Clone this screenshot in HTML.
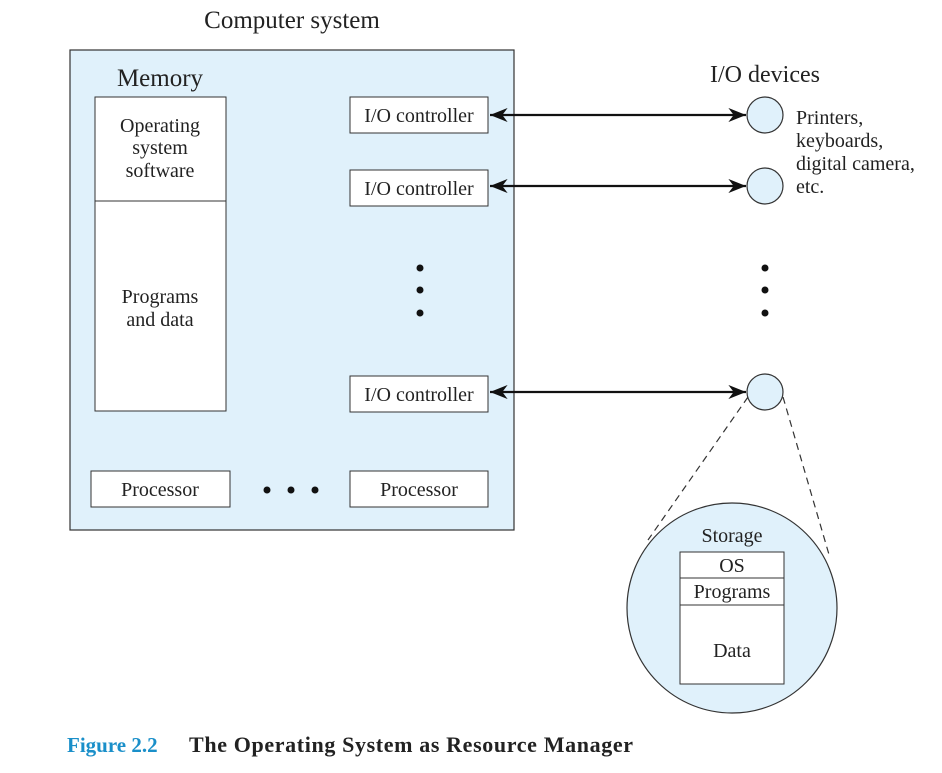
<!DOCTYPE html>
<html><head><style>body{margin:0;background:#fff}</style></head><body>
<svg width="942" height="768" xmlns="http://www.w3.org/2000/svg" font-family="Liberation Serif, serif" fill="#222">
<defs><marker id="a" viewBox="0 0 10 10" refX="10" refY="5" markerWidth="8" markerHeight="8" orient="auto-start-reverse"><path d="M0,1 L10,5 L0,9 L3,5z" fill="#111"/></marker></defs>
<text x="292" y="28" font-size="25" text-anchor="middle">Computer system</text>
<rect x="70" y="50" width="444" height="480" fill="#e0f1fb" stroke="#333" stroke-width="1.2"/>
<text x="160" y="86" font-size="25" text-anchor="middle">Memory</text>
<rect x="95" y="97" width="131" height="314" fill="#fff" stroke="#333"/>
<line x1="95" y1="201" x2="226" y2="201" stroke="#333"/>
<g font-size="20" text-anchor="middle">
<text x="160" y="132">Operating</text><text x="160" y="154">system</text><text x="160" y="177">software</text>
<text x="160" y="303">Programs</text><text x="160" y="326">and data</text>
</g>
<g fill="#fff" stroke="#333">
<rect x="350" y="97" width="138" height="36"/><rect x="350" y="170" width="138" height="36"/><rect x="350" y="376" width="138" height="36"/>
<rect x="91" y="471" width="139" height="36"/><rect x="350" y="471" width="138" height="36"/>
</g>
<g font-size="20" text-anchor="middle">
<text x="419" y="122">I/O controller</text><text x="419" y="195">I/O controller</text><text x="419" y="401">I/O controller</text>
<text x="160" y="496">Processor</text><text x="419" y="496">Processor</text>
</g>
<g fill="#111"><circle cx="267" cy="490" r="3.5"/><circle cx="291" cy="490" r="3.5"/><circle cx="315" cy="490" r="3.5"/>
<circle cx="420" cy="268" r="3.5"/><circle cx="420" cy="290" r="3.5"/><circle cx="420" cy="313" r="3.5"/>
<circle cx="765" cy="268" r="3.5"/><circle cx="765" cy="290" r="3.5"/><circle cx="765" cy="313" r="3.5"/></g>
<g stroke="#111" stroke-width="2.2" marker-start="url(#a)" marker-end="url(#a)">
<line x1="490" y1="115" x2="746" y2="115"/><line x1="490" y1="186" x2="746" y2="186"/><line x1="490" y1="392" x2="746" y2="392"/>
</g>
<text x="765" y="82" font-size="24" text-anchor="middle">I/O devices</text>
<g fill="#e0f1fb" stroke="#333" stroke-width="1.2">
<circle cx="765" cy="115" r="18"/><circle cx="765" cy="186" r="18"/><circle cx="765" cy="392" r="18"/>
<circle cx="732" cy="608" r="105"/>
</g>
<g font-size="20"><text x="796" y="124">Printers,</text><text x="796" y="147">keyboards,</text><text x="796" y="170">digital camera,</text><text x="796" y="193">etc.</text></g>
<g stroke="#333" stroke-width="1.2" stroke-dasharray="7,5"><line x1="748" y1="397" x2="648" y2="540"/><line x1="783" y1="397" x2="830" y2="558"/></g>
<text x="732" y="542" font-size="20" text-anchor="middle">Storage</text>
<rect x="680" y="552" width="104" height="132" fill="#fff" stroke="#333"/>
<line x1="680" y1="578" x2="784" y2="578" stroke="#333"/><line x1="680" y1="605" x2="784" y2="605" stroke="#333"/>
<g font-size="20" text-anchor="middle"><text x="732" y="572">OS</text><text x="732" y="598">Programs</text><text x="732" y="657">Data</text></g>
<text x="67" y="752" font-size="21" font-weight="bold" fill="#1a8fc9">Figure 2.2</text>
<text x="189" y="752" font-size="22" font-weight="bold" fill="#222" textLength="444">The Operating System as Resource Manager</text>
</svg>
</body></html>
